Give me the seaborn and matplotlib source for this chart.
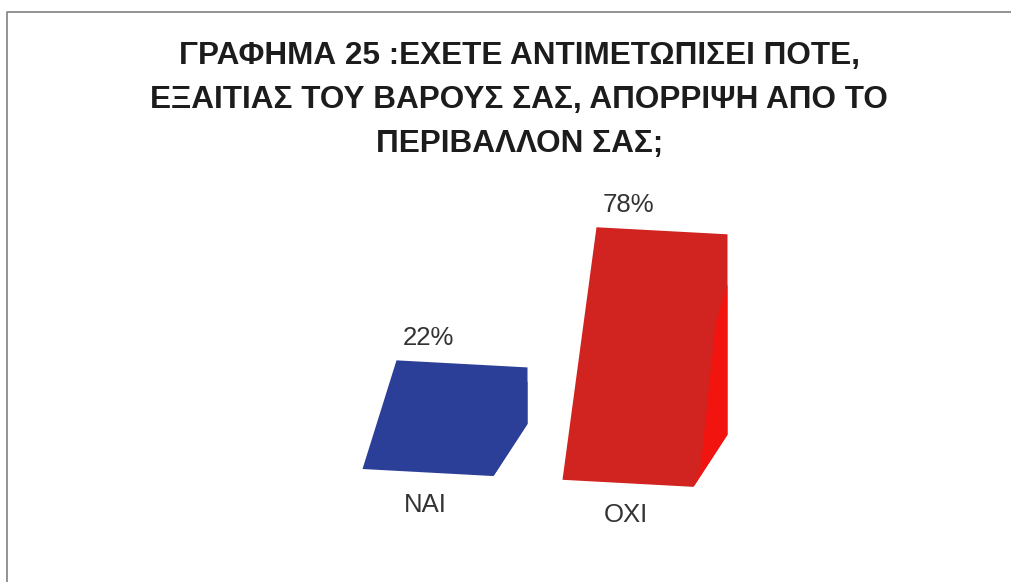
"""Greek survey chart 25: rejection because of weight (yes / no), skewed 3D-look bars."""

import matplotlib

matplotlib.use("Agg")
import matplotlib.pyplot as plt
import pandas as pd
import seaborn as sns
from matplotlib.lines import Line2D
from matplotlib.patches import Polygon

# --- data -------------------------------------------------------------------
categories = ["ΝΑΙ", "ΟΧΙ"]
values = [22, 78]
value_labels = ["22%", "78%"]
title_lines = [
    "ΓΡΑΦΗΜΑ 25 :ΕΧΕΤΕ ΑΝΤΙΜΕΤΩΠΙΣΕΙ ΠΟΤΕ,",
    "ΕΞΑΙΤΙΑΣ ΤΟΥ ΒΑΡΟΥΣ ΣΑΣ, ΑΠΟΡΡΙΨΗ ΑΠΟ ΤΟ",
    "ΠΕΡΙΒΑΛΛΟΝ ΣΑΣ;",
]

# --- style ------------------------------------------------------------------
front_colors = ["#2b3f98", "#d12320"]
side_colors = ["#2b3f98", "#f2150f"]
BAR_W = 0.655   # bar width in category units
DEPTH = 21      # fake floor depth below zero (percent units)
SHIFT = 0.17    # top edge offset to the right (category units)
TILT = 4.2      # perspective drop per category unit (percent units)

sns.set_theme(style="white")
plt.rcParams["font.family"] = ["Liberation Sans", "DejaVu Sans"]


def tilt(x, y):
    return (x, y - TILT * x)


def main() -> None:
    fig = plt.figure(figsize=(10.12, 5.82), dpi=100)
    fig.patch.set_facecolor("white")
    ax = fig.add_axes([0, 0, 1, 1])

    df = pd.DataFrame({"answer": categories, "pct": values})
    sns.barplot(data=df, x="answer", y="pct", hue="answer", palette=front_colors,
                width=BAR_W, legend=False, ax=ax)

    bars = sorted(ax.patches, key=lambda p: p.get_x())
    for i, p in enumerate(bars):
        x0, w, h = p.get_x(), p.get_width(), p.get_height()
        p.set_visible(False)
        xr = x0 + w + SHIFT
        xb = x0 + w
        front = [(x0, -DEPTH), (x0 + SHIFT, h), (xr, h), (xr, 0), (xb, -DEPTH)]
        ax.add_patch(Polygon([tilt(*pt) for pt in front], closed=True,
                             facecolor=front_colors[i], edgecolor="none", zorder=3))
        # lighter side strip along the right edge
        side = [(xr, 0.75 * h), (xr, 0), (xb, -DEPTH), (xb + 0.035, -DEPTH + 7),
                (xr - 0.06, 0.55 * h)]
        ax.add_patch(Polygon([tilt(*pt) for pt in side], closed=True,
                             facecolor=side_colors[i], edgecolor="none", zorder=4))
        cx = x0 + w / 2
        ax.text(*tilt(cx, h + 9.5), value_labels[i], ha="center", va="center",
                fontsize=18.5, color="#333333", zorder=5)
        ax.text(*tilt(cx - 0.012, -DEPTH - 12.5), categories[i], ha="center", va="center",
                fontsize=18.5, color="#333333", zorder=5)

    ax.set_xlim(-2.14, 2.92)
    ax.set_ylim(-63.6, 162.9)
    ax.axis("off")

    for k, line in enumerate(title_lines):
        fig.text(0.513, 1 - (64 + 44 * k) / 582, line, ha="center", va="baseline",
                 fontsize=22.7, fontweight="bold", color="#1c1c1c")

    # scanned page frame
    fx, fy = 7 / 1012, 1 - 12 / 582
    fig.add_artist(Line2D([fx, fx, 1.0], [0.0, fy, fy], transform=fig.transFigure,
                          color="#8a8a8a", lw=1.3))

    fig.savefig("out.png", dpi=100)
    plt.close(fig)


if __name__ == "__main__":
    main()
